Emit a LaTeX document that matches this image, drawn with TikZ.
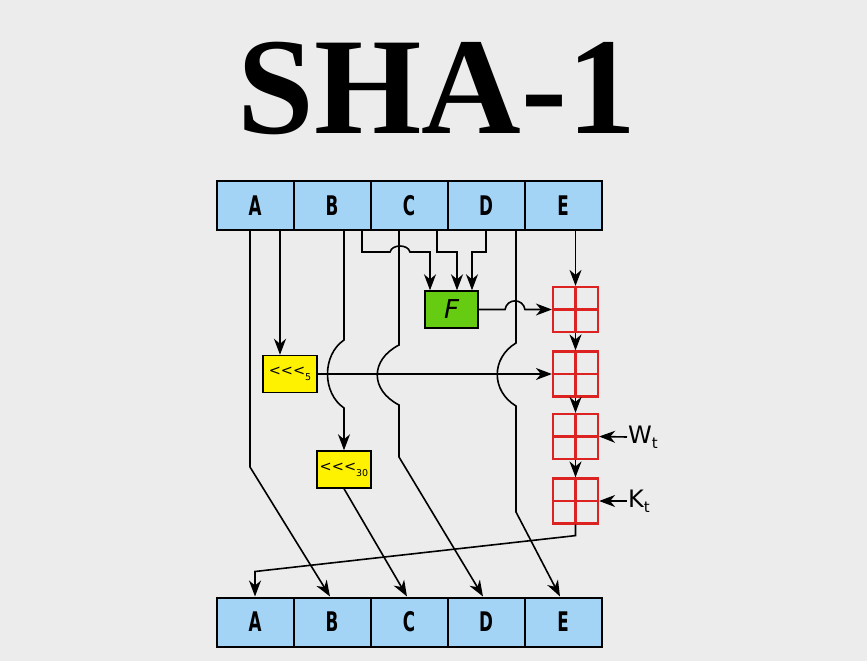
\documentclass[tikz,border=0pt]{standalone}
\usepackage{fontspec}
\setmainfont{DejaVu Sans}
\newfontfamily\titlefont{Liberation Serif}
\newfontfamily\regfont[FakeStretch=0.62]{DejaVu Sans}
\usetikzlibrary{arrows.meta}
\definecolor{bg}{HTML}{EBECEB}
\definecolor{regblue}{HTML}{A3D3F5}
\definecolor{fgreen}{HTML}{66CC11}
\definecolor{addred}{HTML}{DD2222}
\newcommand\rotlabel[1]{{\fontsize{14.5}{14.5}\selectfont <{}<{}<}\raisebox{-5pt}{\fontsize{9.5}{9.5}\selectfont #1}}
\begin{document}
\begin{tikzpicture}[x=1pt,y=-1pt,
  reg/.style={draw=black, line width=2pt, fill=regblue, minimum width=77pt, minimum height=49pt, inner sep=0pt, font=\regfont\bfseries\fontsize{27}{27}\selectfont},
  rot/.style={draw=black, line width=1.4pt, fill=yellow, minimum width=54pt, minimum height=37pt, inner sep=0pt},
  fbox/.style={draw=black, line width=1.4pt, fill=fgreen, minimum width=53pt, minimum height=37pt, inner sep=0pt, font=\itshape\fontsize{26}{26}\selectfont},
  adder/.style={draw=addred, line width=2.2pt, minimum width=45pt, minimum height=45pt, inner sep=0pt},
  cross/.style={draw=addred, line width=2.2pt},
  inlabel/.style={anchor=west, inner sep=1pt, font=\fontsize{24}{24}\selectfont},
  wire/.style={line width=1.6pt},
  arr/.style={wire, -{Stealth[length=16pt,width=12pt,inset=5pt]}},
]
\fill[bg] (0,0) rectangle (867,661);
\useasboundingbox (0,0) rectangle (867,661);

\node[font=\titlefont\bfseries\fontsize{138}{138}\selectfont, anchor=base, inner sep=0pt] (title) at (437,133) {SHA-1};

\foreach \l/\x in {A/255,B/332,C/409,D/486,E/563} {
  \node[reg] (t\l) at (\x,205.5) {\l};
  \node[reg] (b\l) at (\x,622) {\l};
}

\node[fbox] (F) at (451.5,309.5) {F};
\node[rot] (r5) at (290,374) {\rotlabel{5}};
\node[rot] (r30) at (344,469.5) {\rotlabel{30}};

\foreach \n/\y in {1/309.5,2/374,3/436.5,4/501} {
  \node[adder] (add\n) at (575.5,\y) {};
  \draw[cross] (add\n.north) -- (add\n.south) (add\n.west) -- (add\n.east);
}

\node[inlabel] (W) at (627,437) {W\raisebox{-5pt}{\fontsize{15}{15}\selectfont t}};
\node[inlabel] (K) at (627,501) {K\raisebox{-5pt}{\fontsize{15}{15}\selectfont t}};

% A -> bottom B
\draw[arr] ([xshift=-5pt]tA.south) -- (250,467) -- ([xshift=-2pt]bB.north);
% A -> rot5
\draw[arr] ([xshift=25pt]tA.south) -- ([xshift=-10pt]r5.north);
% B -> rot30
\draw[arr] ([xshift=12pt]tB.south) -- (344,340) .. controls (322,355) and (322,393) .. (344,408) -- (r30.north);
% B -> F
\draw[arr] ([xshift=30pt]tB.south) -- (362,252) -- (390,252) .. controls (392,244) and (408,244) .. (410,252) -- (430,252) -- ([xshift=-21.5pt]F.north);
% C -> F
\draw[arr] ([xshift=28pt]tC.south) -- (437,252) -- (457,252) -- ([xshift=5.5pt]F.north);
% D -> F
\draw[arr] (tD.south) -- (486,252) -- (472,252) -- ([xshift=20.5pt]F.north);
% C -> bottom D
\draw[arr] ([xshift=-10pt]tC.south) -- (399,345) .. controls (370,360) and (370,390) .. (399,405) -- (399,457) -- ([xshift=-3pt]bD.north);
% E -> bottom E
\draw[arr] ([xshift=-47pt]tE.south) -- (516,343) .. controls (491,358) and (491,391) .. (516,406) -- (516,512) -- ([xshift=-3pt]bE.north);
% E -> add1
\draw[arr] ([xshift=12.5pt]tE.south) -- (add1.north);
% F -> add1
\draw[arr] (F.east) -- (505,309.5) .. controls (507,298) and (523,298) .. (525,309.5) -- (add1.west);
% rot5 -> add2
\draw[arr] (r5.east) -- (add2.west);
% rot30 -> bottom C
\draw[arr] (r30.south) -- ([xshift=-2pt]bC.north);
% adder chain
\draw[arr] (add1.south) -- (add2.north);
\draw[arr] (add2.south) -- (add3.north);
\draw[arr] (add3.south) -- (add4.north);
\draw[arr] (add4.south) -- ++(0,11) -- ([yshift=25pt]bA.north) -- (bA.north);
% W, K
\draw[arr] (W.west) -- (add3.east);
\draw[arr] (K.west) -- (add4.east);
\end{tikzpicture}
\end{document}
